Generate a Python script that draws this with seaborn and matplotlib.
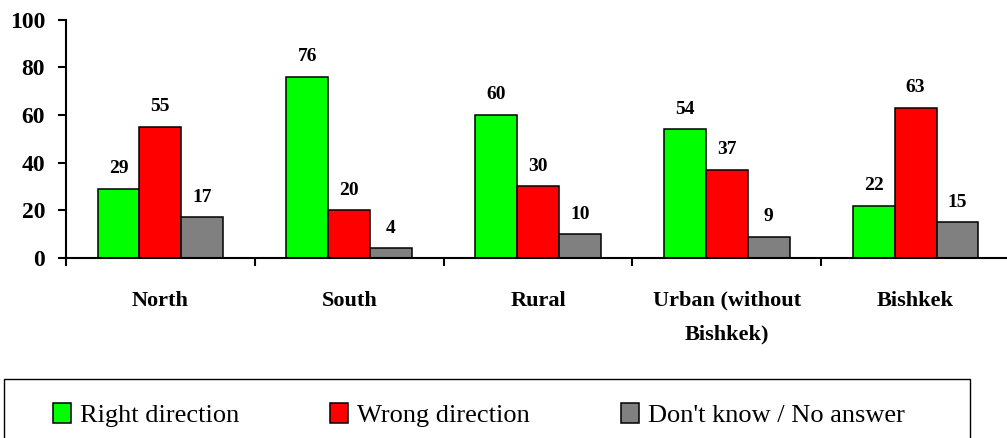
import matplotlib
matplotlib.use("Agg")
import matplotlib.pyplot as plt
from matplotlib.patches import Rectangle
import seaborn as sns
import pandas as pd

# ---- data ----
regions = ["North", "South", "Rural", "Urban (without\nBishkek)", "Bishkek"]
responses = ["Right direction", "Wrong direction", "Don't know / No answer"]
right_direction = [29, 76, 60, 54, 22]
wrong_direction = [55, 20, 30, 37, 63]
dont_know = [17, 4, 10, 9, 15]
y_ticks = [0, 20, 40, 60, 80, 100]
colors = ["#00FF00", "#FF0000", "#808080"]

rows = []
for resp, vals in zip(responses, [right_direction, wrong_direction, dont_know]):
    for reg, v in zip(regions, vals):
        rows.append({"region": reg, "response": resp, "value": v})
df = pd.DataFrame(rows)

sns.set_style("white")
plt.rcParams["font.family"] = ["Liberation Serif", "DejaVu Serif"]
plt.rcParams["text.color"] = "black"
plt.rcParams["xtick.color"] = "black"
plt.rcParams["ytick.color"] = "black"
plt.rcParams["axes.labelcolor"] = "black"

W, H = 1007, 438
fig = plt.figure(figsize=(W / 100, H / 100), dpi=100)
ax = fig.add_axes([66 / W, 1 - 258 / H, 944 / W, 238.5 / H])

sns.barplot(data=df, x="region", y="value", hue="response", order=regions,
            hue_order=responses, palette=colors, width=0.665, saturation=1,
            edgecolor="black", linewidth=1.1, ax=ax)

handles, labels = ax.get_legend_handles_labels()
if ax.get_legend() is not None:
    ax.get_legend().remove()

# value labels
for cont in ax.containers:
    for bar in cont:
        h = bar.get_height()
        ax.annotate(f"{int(round(h))}", (bar.get_x() + bar.get_width() / 2, h),
                    xytext=(0, 11.2), textcoords="offset points",
                    ha="center", va="baseline", fontsize=14, fontweight="bold",
                    color="black")

ax.set_xlim(-0.5, len(regions) - 0.5)
ax.set_ylim(0, 100)
ax.set_yticks(y_ticks)
ax.set_yticklabels([str(t) for t in y_ticks], fontsize=17, fontweight="bold")
ax.set_xticks(range(len(regions)))
ax.set_xticklabels(regions, fontsize=16, fontweight="bold")
for t in ax.get_xticklabels():
    t.set_linespacing(1.9)
ax.set_xticks([i - 0.5 for i in range(len(regions) + 1)], minor=True)
ax.tick_params(axis="x", which="both", bottom=True)
ax.tick_params(axis="y", which="both", left=True)
ax.tick_params(axis="x", which="major", length=0, pad=23.5)
ax.tick_params(axis="x", which="minor", length=6, width=1.5, direction="out", color="black")
ax.tick_params(axis="y", which="major", length=6, width=1.5, direction="out", color="black", pad=9)
ax.set_xlabel("")
ax.set_ylabel("")
for s in ["top", "right"]:
    ax.spines[s].set_visible(False)
for s in ["left", "bottom"]:
    ax.spines[s].set_color("black")
    ax.spines[s].set_linewidth(1.5)
ax.set_facecolor("white")
ax.grid(False)

# legend frame (bottom runs off the image)
fig.patches.append(Rectangle((4 / W, 1 - 450 / H), 966 / W, 71 / H,
                             transform=fig.transFigure, fill=False,
                             edgecolor="black", linewidth=1.0))
leg = fig.legend(handles, labels, loc="upper left", bbox_to_anchor=(53 / W, 1 - 403 / H),
                 ncol=3, frameon=False, fontsize=19, borderpad=0, borderaxespad=0,
                 handlelength=0.68, handleheight=0.76, handletextpad=0.34,
                 columnspacing=3.45)
for t in leg.get_texts():
    t.set_color("black")

fig.savefig("out.png", dpi=100, facecolor="white")
